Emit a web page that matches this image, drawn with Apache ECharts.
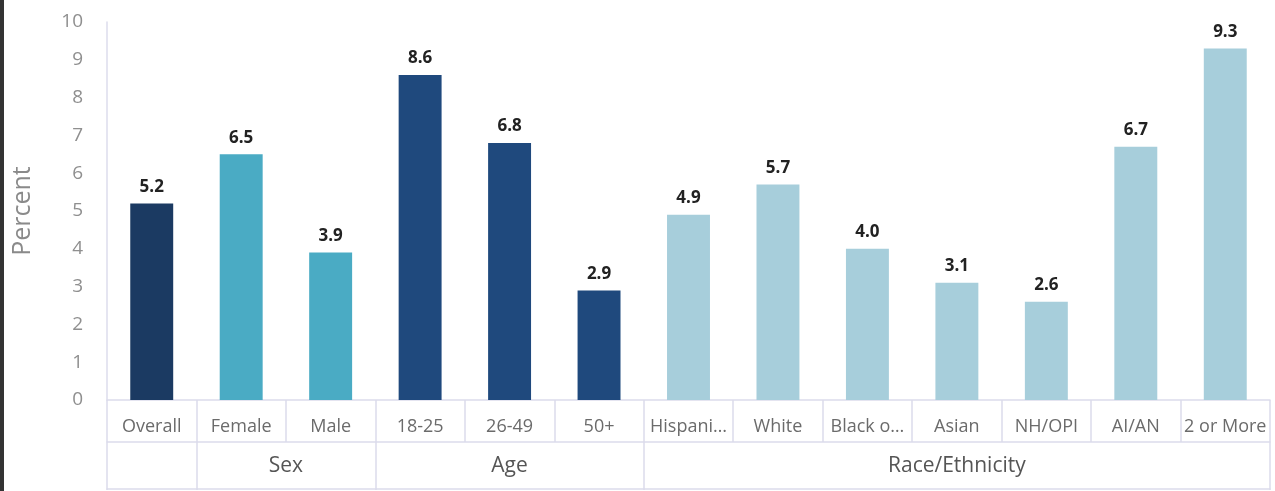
<!DOCTYPE html>
<html>
<head>
<meta charset="utf-8">
<script src="https://cdn.jsdelivr.net/npm/echarts@6/dist/echarts.min.js"></script>
<style>
  html, body { margin: 0; padding: 0; background: #fff; }
  #chart { width: 1275px; height: 491px; box-sizing: border-box; border-left: 4px solid #333; }
</style>
</head>
<body>
<div id="chart"></div>
<script>
// chart data
const categories = ['Overall', 'Female', 'Male', '18-25', '26-49', '50+', 'Hispani\u2026', 'White', 'Black o\u2026', 'Asian', 'NH/OPI', 'AI/AN', '2 or More']
const values = [5.2, 6.5, 3.9, 8.6, 6.8, 2.9, 4.9, 5.7, 4.0, 3.1, 2.6, 6.7, 9.3]
const groupOf = ['', 'Sex', 'Sex', 'Age', 'Age', 'Age', 'Race/Ethnicity', 'Race/Ethnicity', 'Race/Ethnicity', 'Race/Ethnicity', 'Race/Ethnicity', 'Race/Ethnicity', 'Race/Ethnicity']
const yTicks = [0, 1, 2, 3, 4, 5, 6, 7, 8, 9, 10]

// colours per group (first bar is the overall one)
const groupColor = { '': '#1b3a62', 'Sex': '#4aabc4', 'Age': '#1f497d', 'Race/Ethnicity': '#a7cedb' }

const lineColor = '#dcdcec'
const font = '"Open Sans", sans-serif'

// second axis row: split every category in two halves so group centres land on points
const groups = []
groupOf.forEach(g => {
    const last = groups[groups.length - 1]
    if (last && last.name === g) last.span++
    else groups.push({ name: g, span: 1 })
})
const groupAxis = []
const groupTicks = new Set([0])
let pos = 0
groups.forEach(g => {
    for (let i = 0; i < g.span * 2; i++) groupAxis.push('')
    groupAxis[pos + g.span] = g.name
    pos += g.span * 2
    groupTicks.add(pos)
})
groupAxis.push('')

const chart = echarts.init(document.getElementById('chart'))
chart.setOption({
    animation: false,
    textStyle: { fontFamily: font },
    grid: { left: 103, right: 5, top: 22, bottom: 91, outerBoundsMode: 'none', containLabel: false },
    xAxis: [{
        type: 'category',
        data: categories,
        axisLine: { lineStyle: { color: lineColor, width: 1.5 } },
        axisTick: { show: true, length: 42, interval: 0, lineStyle: { color: lineColor, width: 1.5 } },
        axisLabel: { interval: 0, margin: 18, fontSize: 18, color: '#6b6b6b', fontFamily: font }
    }, {
        type: 'category',
        position: 'bottom',
        offset: 42,
        boundaryGap: false,
        data: groupAxis,
        axisLine: { lineStyle: { color: lineColor, width: 1.5 } },
        axisTick: { show: true, length: 48, interval: (i) => groupTicks.has(i), lineStyle: { color: lineColor, width: 1.5 } },
        axisLabel: { interval: 0, margin: 14, fontSize: 21, color: '#555', fontFamily: font }
    }, {
        type: 'category',
        position: 'bottom',
        offset: 89,
        data: [''],
        axisLine: { lineStyle: { color: lineColor, width: 1.5 } },
        axisTick: { show: false },
        axisLabel: { show: false }
    }],
    yAxis: {
        type: 'value',
        min: yTicks[0],
        max: yTicks[yTicks.length - 1],
        interval: 1,
        name: 'Percent',
        nameLocation: 'middle',
        nameGap: 72,
        nameTextStyle: { fontSize: 25, color: '#8a8a8a', fontFamily: font },
        axisLine: { show: true, lineStyle: { color: lineColor, width: 1.5 } },
        axisTick: { show: false },
        splitLine: { show: false },
        axisLabel: { margin: 24, fontSize: 19, color: '#8f8f8f', fontFamily: font }
    },
    series: [{
        type: 'bar',
        data: values,
        barWidth: '48%',
        itemStyle: { color: (p) => groupColor[groupOf[p.dataIndex]] },
        label: {
            show: true,
            position: 'top',
            distance: 8,
            fontSize: 17,
            fontWeight: 'bold',
            color: '#222',
            fontFamily: font,
            formatter: (p) => p.value.toFixed(1)
        }
    }]
})
</script>
</body>
</html>
